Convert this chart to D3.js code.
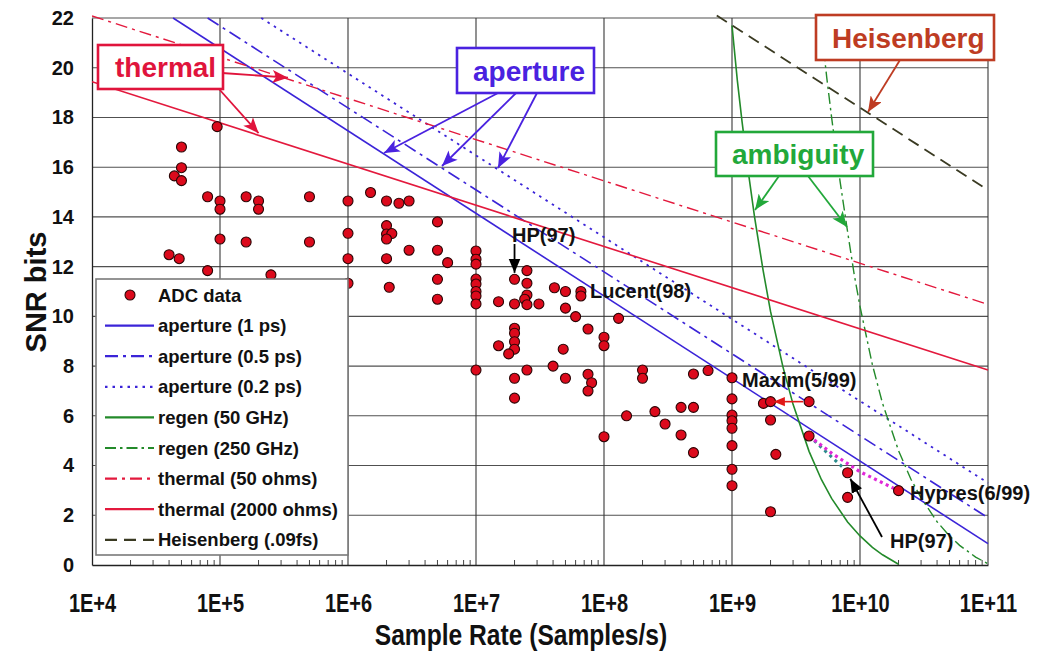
<!DOCTYPE html>
<html><head><meta charset="utf-8">
<script src="https://cdn.jsdelivr.net/npm/d3@7"></script>
<style>
html,body{margin:0;padding:0;background:#fff;}
svg{display:block;}
</style></head>
<body>
<svg id="chart" width="1040" height="651"></svg>
<script>
// ---------- DATA ----------
const xTickValues = [1e4, 1e5, 1e6, 1e7, 1e8, 1e9, 1e10, 1e11];
const xTickLabels = ["1E+4", "1E+5", "1E+6", "1E+7", "1E+8", "1E+9", "1E+10", "1E+11"];
const yTickValues = [0, 2, 4, 6, 8, 10, 12, 14, 16, 18, 20, 22];

// ADC data: sample rate (samples/s) and SNR bits
const adcRate = [
  9.5e4, 5e4, 5e4, 4.4e4, 5e4, 8e4, 1e5, 1e5, 1.6e5, 2e5, 2e5, 5e5, 1e6,
  1e5, 1.6e5, 5e5, 1e6, 4e4, 4.8e4, 1e6, 8e4, 2.5e5, 1e6,
  1.5e6, 2e6, 2.5e6, 3e6, 2e6, 2e6, 2.2e6, 2e6, 5e6, 2e6, 3e6, 5e6, 6e6, 2.1e6, 5e6, 5e6,
  1e7, 1e7, 1e7, 1e7, 1e7, 1e7, 1e7, 1e7, 1e7,
  1.5e7, 2e7, 2e7, 2.5e7, 2.5e7, 2.5e7, 2.4e7, 2.5e7, 3.1e7, 4.1e7, 5e7, 6.6e7, 6.6e7,
  5e7, 6e7, 1.3e8, 7.5e7, 1e8, 1e8, 2e7, 2e7, 2e7, 2e7, 1.8e7, 1.5e7, 4.8e7,
  2.5e7, 4e7, 2e7, 5e7, 7.5e7, 8e7, 7.5e7, 2e7, 2e8, 2e8, 1.5e8, 2.5e8, 1e8,
  3e8, 4e8, 5e8, 4e8, 5e8, 5e8, 6.5e8,
  1e9, 1e9, 1e9, 1e9, 1e9, 1e9, 1e9, 1e9,
  1.76e9, 2e9, 4e9, 2e9, 2.2e9, 2e9, 4e9, 8e9, 8e9, 2e10
];
const adcBits = [
  17.63, 16.81, 15.98, 15.65, 15.46, 14.81, 14.64, 14.31, 14.81, 14.64, 14.31, 14.81, 14.64,
  13.11, 12.99, 12.99, 13.34, 12.48, 12.32, 12.32, 11.84, 11.67, 11.33,
  14.98, 14.64, 14.55, 14.64, 13.65, 13.31, 13.33, 13.11, 13.8, 12.32, 12.66, 12.66, 12.16, 11.17, 11.49, 10.69,
  12.63, 12.3, 12.1, 11.5, 11.3, 11.0, 10.82, 10.5, 7.84,
  10.59, 11.49, 10.5, 11.84, 11.33, 10.86, 10.69, 10.47, 10.5, 11.15, 11.0, 11.0, 10.82,
  10.33, 9.99, 9.92, 9.49, 9.16, 8.82, 9.52, 9.32, 8.98, 8.68, 8.49, 8.82, 8.68,
  7.84, 8.0, 7.51, 7.51, 7.67, 7.33, 7.0, 6.71, 7.84, 7.51, 6.0, 6.17, 5.16,
  5.67, 6.34, 6.34, 5.23, 4.52, 7.68, 7.82,
  7.53, 6.68, 6.03, 5.8, 5.5, 4.8, 3.85, 3.19,
  6.5, 6.57, 6.57, 5.83, 4.45, 2.14, 5.19, 3.71, 2.72, 2.99
];

// Limit lines: [sample rate, SNR bits]
const aperture1ps  = [[4.3e4, 22], [1e11, 0.86]];
const aperture05ps = [[8.0e4, 22], [1e11, 1.9]];
const aperture02ps = [[2.1e5, 22], [1e11, 3.3]];
const thermal50    = [[1e4, 22.08], [1e11, 10.48]];
const thermal2000  = [[1e4, 19.44], [1e11, 7.84]];
const heisenberg   = [[7.6e8, 22.1], [1e11, 15.08]];
const regen50 = [[1e9, 21.7], [1.1e9, 19.5], [1.2e9, 17.8], [1.35e9, 15.7], [1.5e9, 14.0],
  [1.75e9, 11.85], [2e9, 10.2], [2.5e9, 7.97], [3e9, 6.46], [4e9, 4.57], [5e9, 3.43],
  [6e9, 2.68], [8e9, 1.73], [1e10, 1.17], [1.25e10, 0.71], [1.5e10, 0.41], [2e10, 0.03]];
const regen250 = [[5e9, 21.56], [5.5e9, 19.6], [6e9, 18.0], [7e9, 15.4], [8e9, 13.4],
  [9e9, 11.7], [1e10, 10.4], [1.25e10, 8.05], [1.5e10, 6.5], [2e10, 4.6], [2.5e10, 3.45],
  [3e10, 2.7], [4e10, 1.74], [5e10, 1.17], [6e10, 0.79], [8e10, 0.32], [1e11, 0.05]];
const hypresTrend = [[4e9, 5.19], [6e9, 4.5], [1e10, 3.75], [2e10, 2.99]];
const hpTrend = [[4e9, 5.19], [8e9, 3.75]];

const legendLabels = ["ADC data", "aperture (1 ps)", "aperture (0.5 ps)", "aperture (0.2 ps)",
  "regen (50 GHz)", "regen (250 GHz)", "thermal (50 ohms)", "thermal (2000 ohms)", "Heisenberg (.09fs)"];

// ---------- STYLES ----------
const C = {
  blue: "#3b24d8", green: "#238a2a", red: "#e3193d", heis: "#3a3a22",
  thermalBox: "#e0143c", apertureBox: "#4a22e0", ambBox: "#22a83a", heisBox: "#be3c23"
};
const series = [
  {data: aperture1ps,  color: C.blue,  dash: null,            w: 1.6},
  {data: aperture05ps, color: C.blue,  dash: "13,5,3,5",      w: 1.6},
  {data: aperture02ps, color: C.blue,  dash: "2.5,5",         w: 1.8},
  {data: regen50,      color: C.green, dash: null,            w: 1.6},
  {data: regen250,     color: C.green, dash: "11,4,2.5,4",    w: 1.4},
  {data: thermal50,    color: C.red,   dash: "12,5,3,5",      w: 1.4},
  {data: thermal2000,  color: C.red,   dash: null,            w: 1.6},
  {data: heisenberg,   color: C.heis,  dash: "12,7",          w: 1.8}
];

// ---------- CHART ----------
const svg = d3.select("#chart");
const L = 92, R = 988, T = 18, B = 565;
const x = d3.scaleLog().domain([1e4, 1e11]).range([L, R]);
const y = d3.scaleLinear().domain([0, 22]).range([B, T]);
const sans = "'Liberation Sans',Arial,sans-serif";

const defs = svg.append("defs");
defs.append("clipPath").attr("id", "plotclip").append("rect")
  .attr("x", L).attr("y", T - 4).attr("width", R - L + 1).attr("height", B - T + 4);
function marker(id, color, w, h, path) {
  defs.append("marker").attr("id", id).attr("viewBox", "0 0 12 10")
    .attr("refX", 12).attr("refY", 5).attr("markerUnits", "userSpaceOnUse")
    .attr("markerWidth", w).attr("markerHeight", h).attr("orient", "auto")
    .append("path").attr("d", path || "M0,0 L12,5 L0,10 L3,5 Z").attr("fill", color);
}
marker("mThermal", C.thermalBox, 16, 13);
marker("mAperture", C.apertureBox, 16, 13);
marker("mAmb", C.ambBox, 16, 13);
marker("mHeis", C.heisBox, 16, 13);
marker("mBlack", "#000", 14, 13, "M0,0 L12,5 L0,10 Z");
marker("mRed", "#e01818", 11, 11, "M0,0 L12,5 L0,10 Z");

// grid
const grid = svg.append("g");
grid.selectAll("line.h").data(yTickValues.filter(v => v > 0)).join("line")
  .attr("x1", L).attr("x2", R).attr("y1", d => y(d)).attr("y2", d => y(d))
  .attr("stroke", "#505050").attr("stroke-width", 1.1);
grid.selectAll("line.v").data(xTickValues.slice(1)).join("line")
  .attr("x1", d => x(d)).attr("x2", d => x(d)).attr("y1", T).attr("y2", B)
  .attr("stroke", "#383838").attr("stroke-width", 1.1);

// x axis (labels condensed horizontally like the original)
const xAxis = d3.axisBottom(x).tickValues(xTickValues).tickFormat((d, i) => xTickLabels[i]).tickSize(0).tickPadding(0);
const gx = svg.append("g").attr("transform", `translate(0,${B})`).call(xAxis);
gx.select(".domain").attr("stroke", "#222").attr("stroke-width", 1.3);
gx.selectAll(".tick text").attr("y", 0).attr("dy", null)
  .attr("transform", "translate(0,47) scale(0.8,1)")
  .style("font-family", sans).style("font-weight", "bold").style("font-size", "25px").attr("fill", "#111");
// minor ticks
const minor = [];
for (let e = 4; e < 11; e++) for (let k = 2; k <= 9; k++) minor.push(k * Math.pow(10, e));
svg.append("g").selectAll("line").data(minor).join("line")
  .attr("x1", d => x(d)).attr("x2", d => x(d)).attr("y1", B - 5).attr("y2", B)
  .attr("stroke", "#444").attr("stroke-width", 1);

const yAxis = d3.axisLeft(y).tickValues(yTickValues).tickSize(0).tickPadding(18);
const gy = svg.append("g").attr("transform", `translate(${L},0)`).call(yAxis);
gy.select(".domain").attr("stroke", "#222").attr("stroke-width", 1.3);
gy.selectAll("text").style("font-family", sans)
  .style("font-weight", "bold").style("font-size", "20px").attr("fill", "#111");

// axis titles
svg.append("text").attr("transform", "translate(521,645) scale(0.82,1)").attr("text-anchor", "middle")
  .style("font-family", sans)
  .style("font-weight", "bold").style("font-size", "30px").attr("fill", "#111")
  .text("Sample Rate (Samples/s)");
svg.append("text").attr("transform", "translate(46,292) rotate(-90)").attr("text-anchor", "middle")
  .style("font-family", sans)
  .style("font-weight", "bold").style("font-size", "29px").attr("fill", "#111")
  .text("SNR bits");

// lines
const line = d3.line().x(d => x(d[0])).y(d => y(d[1]));
const lines = svg.append("g").attr("clip-path", "url(#plotclip)");
series.forEach(s => {
  lines.append("path").attr("d", line(s.data)).attr("fill", "none")
    .attr("stroke", s.color).attr("stroke-width", s.w)
    .attr("stroke-dasharray", s.dash);
});
lines.append("path").attr("d", line(hpTrend)).attr("fill", "none")
  .attr("stroke", "#2a8c8c").attr("stroke-width", 3).attr("stroke-dasharray", "3,4");
lines.append("path").attr("d", line(hypresTrend)).attr("fill", "none")
  .attr("stroke", "#e028d8").attr("stroke-width", 3.2).attr("stroke-dasharray", "3,3.5");

// data points
const pts = adcRate.map((r, i) => [r, adcBits[i]]);
svg.append("g").selectAll("circle").data(pts).join("circle")
  .attr("cx", d => x(d[0])).attr("cy", d => y(d[1])).attr("r", 5)
  .attr("fill", "#dc0a1c").attr("stroke", "#2a0505").attr("stroke-width", 1.1);

// point annotations
function label(txt, px, py) {
  svg.append("text").attr("x", px).attr("y", py).text(txt)
    .style("font-family", sans).style("font-weight", "bold").style("font-size", "20px").attr("fill", "#111");
}
label("HP(97)", 512, 242);
svg.append("line").attr("x1", x(2e7)).attr("y1", 244).attr("x2", x(2e7)).attr("y2", y(11.75))
  .attr("stroke", "#000").attr("stroke-width", 1.8).attr("marker-end", "url(#mBlack)");
label("Lucent(98)", 590, 298);
label("Maxim(5/99)", 742, 387);
svg.append("line").attr("x1", x(4e9) - 6).attr("y1", y(6.57)).attr("x2", x(2.05e9) + 2).attr("y2", y(6.57))
  .attr("stroke", "#e01818").attr("stroke-width", 1.6).attr("marker-end", "url(#mRed)");
label("Hypres(6/99)", 910, 500);
label("HP(97)", 890, 548);
svg.append("line").attr("x1", 882).attr("y1", 537).attr("x2", x(8.1e9) + 2).attr("y2", y(3.71) + 6)
  .attr("stroke", "#000").attr("stroke-width", 1.8).attr("marker-end", "url(#mBlack)");

// boxed category labels with arrows
function boxLabel(txt, bx, by, bw, bh, tx, color, arrows, mk) {
  arrows.forEach(a => {
    svg.append("line").attr("x1", a[0]).attr("y1", a[1]).attr("x2", a[2]).attr("y2", a[3])
      .attr("stroke", color).attr("stroke-width", 1.8).attr("marker-end", `url(#${mk})`);
  });
  svg.append("rect").attr("x", bx).attr("y", by).attr("width", bw).attr("height", bh)
    .attr("fill", "#fff").attr("stroke", color).attr("stroke-width", 2.6);
  svg.append("text").attr("x", tx).attr("y", by + bh / 2).attr("dy", "0.36em").text(txt)
    .style("font-family", sans).style("font-weight", "bold").style("font-size", "28px").attr("fill", color);
}
boxLabel("thermal", 98, 45, 125, 44, 115, C.thermalBox,
  [[222, 73, x(3.4e5), y(19.6)], [219, 89, x(2.0e5), y(17.37)]], "mThermal");
boxLabel("aperture", 457, 48, 137, 45, 473, C.apertureBox,
  [[498, 93, 384, 153], [516, 93, 442, 166], [537, 93, 498, 168]], "mAperture");
boxLabel("ambiguity", 716, 132, 157, 44, 732, C.ambBox,
  [[779, 176, 755, 210], [808, 176, 847, 227]], "mAmb");
boxLabel("Heisenberg", 816, 15, 178, 45, 832, C.heisBox,
  [[900, 60, 868, 112]], "mHeis");

// legend
const lg = svg.append("g");
lg.append("rect").attr("x", 96).attr("y", 279).attr("width", 252).attr("height", 276)
  .attr("fill", "#fff").attr("stroke", "#7a7a7a").attr("stroke-width", 1.6);
const legendItems = [{marker: true}].concat(series);
legendItems.forEach((s, i) => {
  const cy = 295 + i * 30.6;
  if (s.marker) {
    lg.append("circle").attr("cx", 130).attr("cy", cy).attr("r", 5)
      .attr("fill", "#dc0a1c").attr("stroke", "#2a0505").attr("stroke-width", 1.1);
  } else {
    lg.append("line").attr("x1", 105).attr("x2", 154).attr("y1", cy).attr("y2", cy)
      .attr("stroke", s.color).attr("stroke-width", 2.2).attr("stroke-dasharray", s.dash);
  }
  lg.append("text").attr("x", 158).attr("y", cy).attr("dy", "0.36em").text(legendLabels[i])
    .style("font-family", sans).style("font-weight", "bold").style("font-size", "18.5px").attr("fill", "#111");
});
</script>
</body></html>
